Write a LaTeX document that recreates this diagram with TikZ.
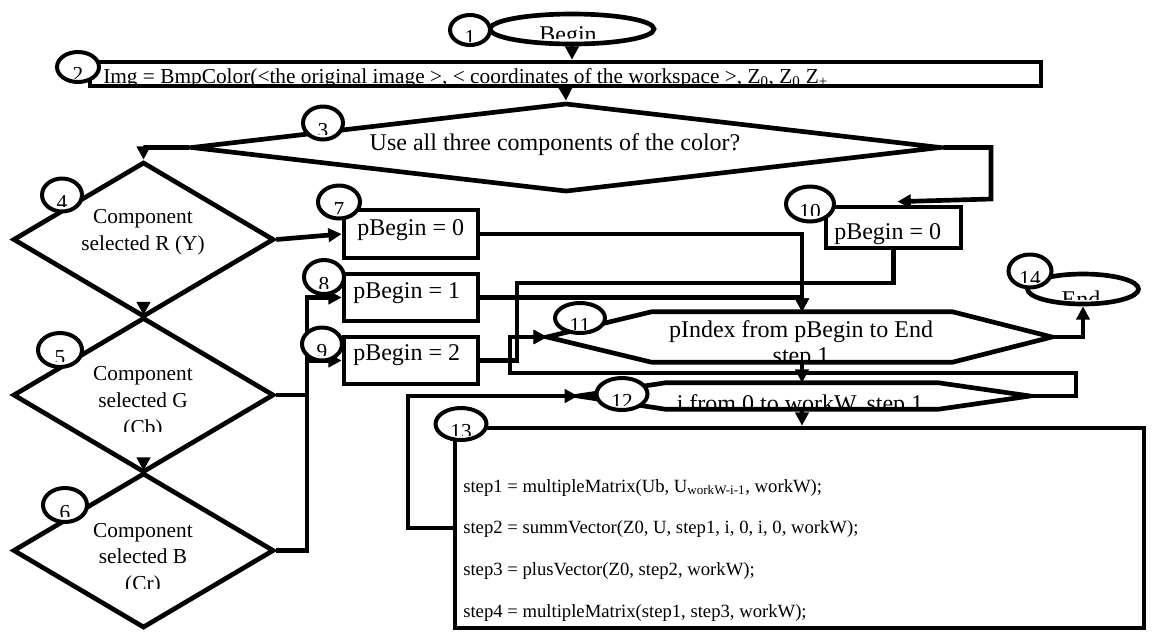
\documentclass[tikz,border=0pt]{standalone}
\usepackage{fontspec}
\setmainfont{Liberation Serif}
\usetikzlibrary{shapes.geometric, arrows.meta, calc}

\tikzset{
  arr/.style={line width=3.5pt, -{Triangle[length=10pt,width=10pt]}},
  shp/.style={draw, line width=3.5pt},
  boxn/.style={shp, rectangle, inner sep=0pt},
  dia/.style={shp, diamond, inner sep=0pt, minimum width=261*0.75pt, minimum height=155*0.75pt},
  circn/.style={draw, fill=white, line width=3pt, ellipse, inner sep=0pt},
  oval/.style={shp, ellipse, inner sep=0pt},
  ghost/.style={rectangle, inner sep=0pt},
  numt/.style={font=\rmfamily\fontsize{16}{19}\selectfont, inner sep=0pt, anchor=base},
  lgt/.style={font=\rmfamily\fontsize{18}{22}\selectfont, inner sep=0pt},
  mdt/.style={font=\rmfamily\fontsize{16}{20}\selectfont, inner sep=0pt},
  codet/.style={font=\rmfamily\fontsize{14}{17}\selectfont, inner sep=0pt, anchor=base west},
}

\newcommand{\numcircle}[6]{%
  \node[circn, minimum width=#4*0.75pt, minimum height=#5*0.75pt] (#1) at (#2,#3) {};
  \begin{scope}
    \clip (#2-30,#3-20) rectangle (#2+30,#3+11);
    \node[numt] (#1t) at (#2,#3+14) {#6};
  \end{scope}}

\begin{document}
\begin{tikzpicture}[x=0.75pt, y=-0.75pt]
\useasboundingbox (0,0) rectangle (1152,633);

% ---- shapes ----
\node[oval, minimum width=164*0.75pt, minimum height=30*0.75pt] (begin) at (572,29) {};
\node[boxn, minimum width=951*0.75pt, minimum height=24*0.75pt] (b2) at (565.5,74) {};
\node[dia, minimum width=750*0.75pt, minimum height=89*0.75pt] (d3) at (566,147.5) {};
\node[dia] (d4) at (143.5,239.5) {};
\node[dia] (d5) at (143.5,395) {};
\node[dia] (d6) at (143.5,550.5) {};
\node[boxn, minimum width=134*0.75pt, minimum height=48*0.75pt] (b7) at (411,234) {};
\node[boxn, minimum width=134*0.75pt, minimum height=47*0.75pt] (b8) at (411,297.5) {};
\node[boxn, minimum width=134*0.75pt, minimum height=47*0.75pt] (b9) at (411,360.5) {};
\node[boxn, minimum width=135*0.75pt, minimum height=41*0.75pt] (b10) at (893.5,227.5) {};
\node[boxn, minimum width=689*0.75pt, minimum height=200*0.75pt] (b13) at (799.5,528) {};
\node[oval, minimum width=111*0.75pt, minimum height=30*0.75pt] (end) at (1083,289) {};

\node[ghost, minimum width=300*0.75pt, minimum height=50*0.75pt] (h11) at (802,337) {};
\coordinate (h11w) at (547,337);
\coordinate (h11e) at (1052,337);
\draw[shp] (h11.north west) -- (h11.north east) -- (h11e) -- (h11.south east) -- (h11.south west) -- (h11w) -- cycle;

\node[ghost, minimum width=272*0.75pt, minimum height=26*0.75pt] (h12) at (802,396) {};
\coordinate (h12w) at (578,396);
\coordinate (h12e) at (1030,396);
\draw[shp] (h12.north west) -- (h12.north east) -- (h12e) -- (h12.south east) -- (h12.south west) -- (h12w) -- cycle;

% ---- texts ----
\begin{scope}
  \clip (490,10) rectangle (655,38);
  \node[lgt, anchor=base] (begint) at (568,42) {Begin};
\end{scope}
\begin{scope}
  \clip (90,62) rectangle (1040,85);
  \node[mdt, anchor=base west] (b2t) at (103,83) {Img = BmpColor(<the original image >, < coordinates of the workspace >, Z\textsubscript{0}, Z\textsubscript{0} Z\textsubscript{+}};
\end{scope}
\node[lgt, anchor=base] (d3t) at (555,150) {Use all three components of the color?};

\node[mdt, anchor=base] (d4a) at (143,223) {Component};
\node[mdt, anchor=base] (d4b) at (143,250) {selected R (Y)};
\begin{scope}
  \clip (40,350) rectangle (250,431);
  \node[mdt, anchor=base] (d5a) at (143,380) {Component};
  \node[mdt, anchor=base] (d5b) at (143,407) {selected G};
  \node[mdt, anchor=base] (d5c) at (143,434) {(Cb)};
\end{scope}
\begin{scope}
  \clip (40,505) rectangle (250,588);
  \node[mdt, anchor=base] (d6a) at (143,537) {Component};
  \node[mdt, anchor=base] (d6b) at (143,563) {selected B};
  \node[mdt, anchor=base] (d6c) at (143,590) {(Cr)};
\end{scope}

\node[lgt, anchor=base west] (b7t) at (357,235) {pBegin = 0};
\node[lgt, anchor=base west] (b8t) at (353,298) {pBegin = 1};
\node[lgt, anchor=base west] (b9t) at (353,360) {pBegin = 2};
\node[lgt, anchor=base west] (b10t) at (834,239) {pBegin = 0};

\begin{scope}
  \clip (655,314) rectangle (950,360);
  \node[lgt, anchor=base] (h11a) at (801,337) {pIndex from pBegin to End};
  \node[lgt, anchor=base] (h11b) at (801,363) {step 1};
\end{scope}
\begin{scope}
  \clip (668,385) rectangle (936,407);
  \node[lgt, anchor=base] (h12a) at (800,411) {i from 0 to workW, step 1};
\end{scope}
\begin{scope}
  \clip (1027,270) rectangle (1140,299);
  \node[lgt, anchor=base] (endt) at (1081,307) {End};
\end{scope}

\node[codet] (l1) at (463,492) {step1 = multipleMatrix(Ub, U\textsubscript{workW-i-1}, workW);};
\node[codet] (l2) at (463,533) {step2 = summVector(Z0, U, step1, i, 0, i, 0, workW);};
\node[codet] (l3) at (463,575) {step3 = plusVector(Z0, step2, workW);};
\node[codet] (l4) at (463,617) {step4 = multipleMatrix(step1, step3, workW);};

% ---- connectors ----
\draw[arr] (begin.south) -- (begin.south |- b2.north);
\draw[arr] (b2.south) -- (d3.north);
\draw[arr] (d3.west) -| (d4.north);
\coordinate (b10in) at ($(b10.north)+(4,-3)$);
\draw[arr] (d3.east) -| (991,199) -- (b10in);
\draw[arr] (d4.east) -- (b7.west);
\draw[arr] ($(d4.south)+(0,-16)$) -- (d5.north);
\draw[arr] ($(d5.south)+(0,-16)$) -- (d6.north);
\draw[arr] (d5.east) -- (307,395) |- (b8.west);
\draw[arr] (d6.east) -- (307,550.5) |- (b9.west);
\draw[arr] (b7.east) -| (h11.north);
\draw[arr] (b8.east) -| (h11.north);
\draw[arr] (b9.east) -- (510,360.5) |- (h11w);
\draw[arr] (b10.south) -- (893.5,283) -- (517,283) -- (517,360.5) -- (510,360.5) |- (h11w);
\draw[arr] (h12e) -- (1076,396) -- (1076,373) -- (510,373) |- (h11w);
\draw[arr] (h11e) -| (end.south);
\draw[arr] (h11.south) -- (h12.north);
\draw[arr] (h12.south) -- (h12.south |- b13.north);
\draw[arr] (b13.west) -- (408,528) |- (h12w);

% ---- numbered circles ----
\numcircle{c1}{470}{30}{40}{30}{1}
\numcircle{c2}{78}{67}{42}{30}{2}
\numcircle{c3}{323}{123}{40}{33}{3}
\numcircle{c4}{62}{195}{40}{33}{4}
\numcircle{c5}{60}{350}{44}{34}{5}
\numcircle{c6}{65}{505}{44}{34}{6}
\numcircle{c7}{339}{202}{42}{33}{7}
\numcircle{c8}{324}{277}{40}{34}{8}
\numcircle{c9}{322}{344}{40}{33}{9}
\numcircle{c10}{810}{204}{48}{35}{10}
\numcircle{c11}{580}{318}{50}{30}{11}
\numcircle{c12}{622}{394}{51}{32}{12}
\numcircle{c13}{461}{424}{51}{32}{13}
\numcircle{c14}{1030}{271}{43}{33}{14}
\end{tikzpicture}
\end{document}
